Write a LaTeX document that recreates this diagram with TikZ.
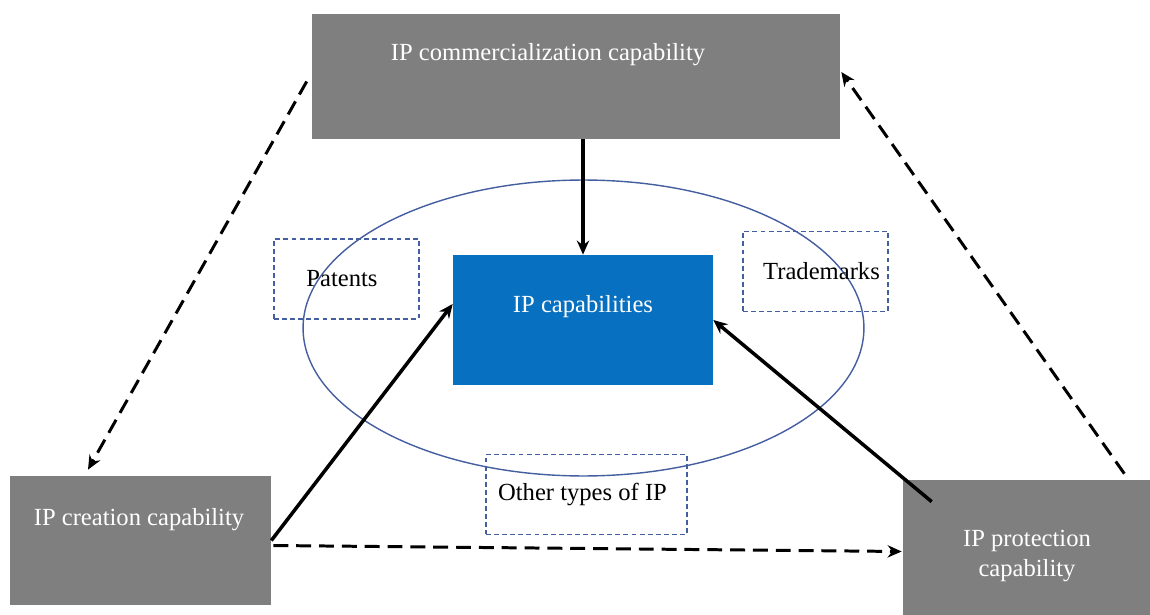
\documentclass[tikz,border=0pt]{standalone}
\usepackage{fontspec}
\setmainfont{Liberation Serif}
\usetikzlibrary{arrows.meta,positioning,calc}
\definecolor{boxgray}{RGB}{127,127,127}
\definecolor{capblue}{RGB}{8,112,192}
\definecolor{ringblue}{RGB}{68,94,160}

\begin{document}
\begin{tikzpicture}[
    x=0.02cm, y=-0.02cm,
    >={Stealth[length=8pt,width=7pt]},
    graybox/.style={rectangle, fill=boxgray, inner sep=0pt},
    capbox/.style={rectangle, fill=capblue, inner sep=0pt, minimum width=5.2cm, minimum height=2.6cm},
    typebox/.style={rectangle, draw=ringblue, line width=0.8pt, dash pattern=on 2.8pt off 1.8pt, inner sep=0pt, minimum height=1.6cm, font=\fontsize{14}{17}\selectfont},
    boxtext/.style={text=white, font=\fontsize{14}{17}\selectfont, align=center},
    solidarrow/.style={->, line width=2pt},
    dasharrow/.style={->, line width=1.7pt, dash pattern=on 8.5pt off 4.5pt}
]
    \useasboundingbox (0,0) rectangle (1150,615);

    % Ellipse of IP types
    \draw[ringblue, line width=0.8pt] (583.5,328) ellipse [x radius=5.61cm, y radius=2.96cm];

    % Boxes
    \node[graybox, minimum width=10.56cm, minimum height=2.5cm] (comm) at (576,76.5) {};
    \node[boxtext] (commtext) at (548,55) {IP commercialization capability};
    \node[capbox] (ipcap) at (583,320) {};
    \node[boxtext] (ipcaptext) at (583,307) {IP capabilities};
    \node[graybox, minimum width=5.22cm, minimum height=2.58cm] (creation) at (140.5,540.5) {};
    \node[boxtext] (creationtext) at (139,520) {IP creation capability};
    \node[graybox, minimum width=4.94cm, minimum height=2.7cm] (protection) at (1026.5,547.5) {};
    \node[boxtext] (protectiontext) at (1027,556) {IP protection\\capability};

    % IP types
    \node[typebox, minimum width=2.9cm] (patents) at (346.5,279) {Patents\kern0.18cm};
    \node[typebox, minimum width=2.9cm] (trademarks) at (815.5,271.5) {\kern0.24cm Trademarks};
    \node[typebox, minimum width=4.02cm] (other) at (586.5,494.5) {Other types of IP\kern0.16cm};

    % Solid arrows to IP capabilities
    \draw[solidarrow] (ipcap.north |- comm.south) -- (ipcap.north);
    \draw[solidarrow] (creation.east) -- (ipcap.173);
    \coordinate (pstart) at ($(protection.north west)+(29,22)$);
    \draw[solidarrow] (pstart) -- (ipcap.east);

    % Dashed cycle
    \draw[dasharrow] ($(comm.west)+(-5,5)$) -- ($(creation.north)+(-52.5,-6)$);
    \draw[dasharrow] ($(creation.east)+(2,5)$) -- ($(protection.west)+(-1,4)$);
    \draw[dasharrow] ($(protection.north east)+(-26,-6)$) -- ($(comm.east)+(1,-4.5)$);
\end{tikzpicture}
\end{document}
